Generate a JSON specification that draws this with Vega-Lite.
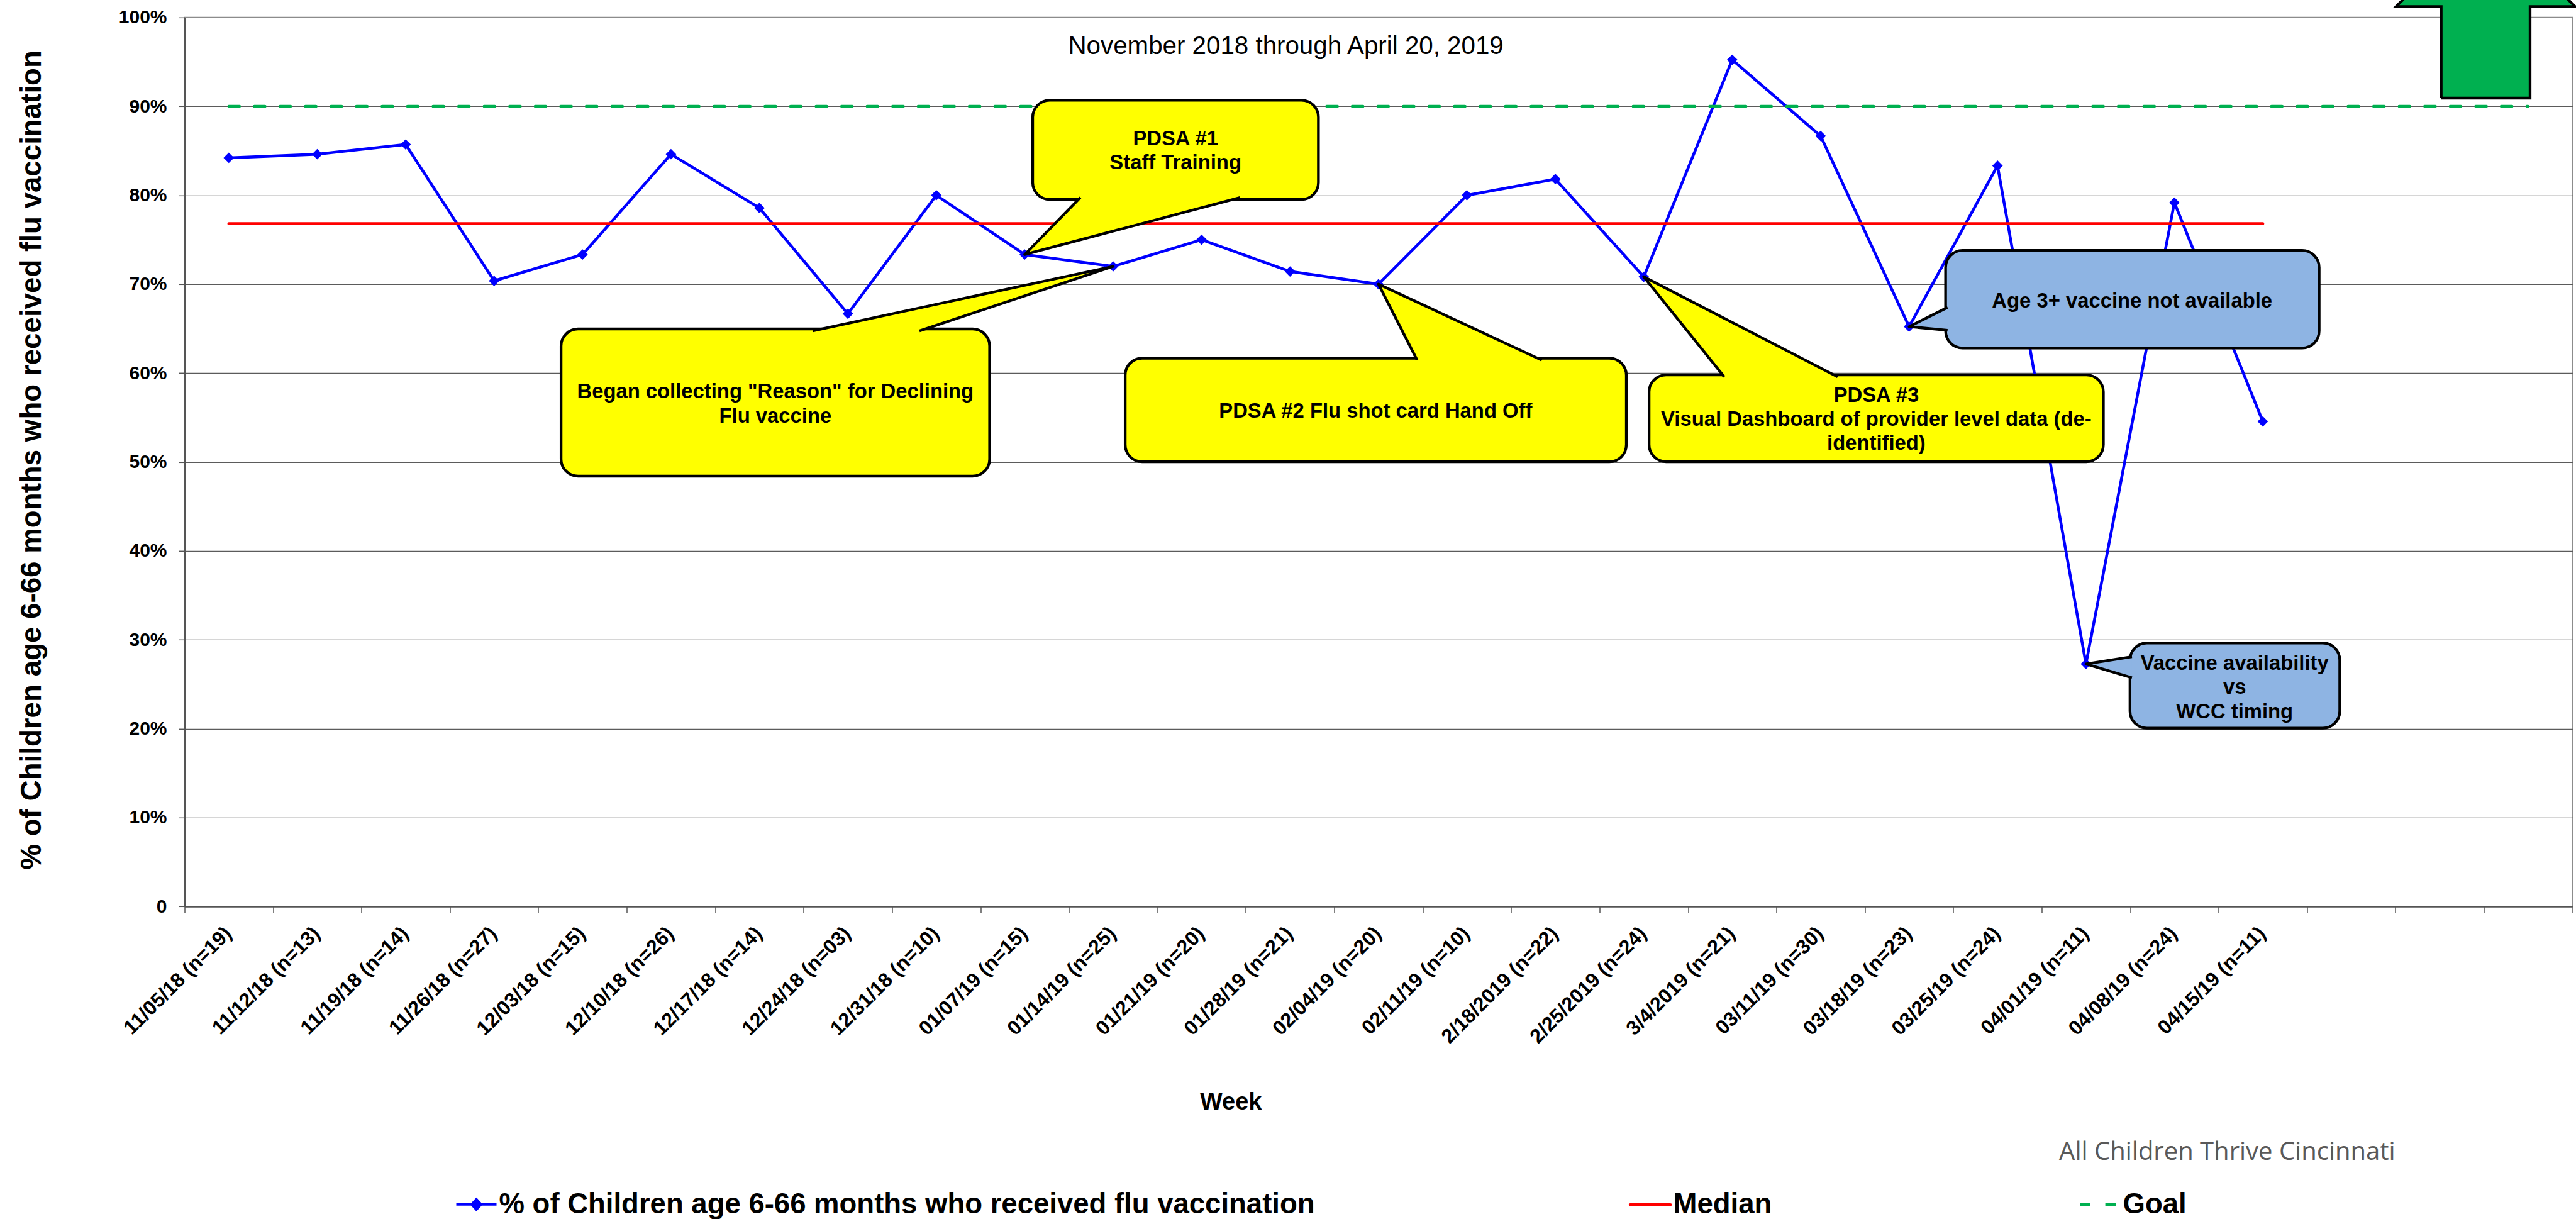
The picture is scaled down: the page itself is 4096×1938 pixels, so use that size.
{
  "$schema": "https://vega.github.io/schema/vega-lite/v6.json",
  "width": 3796.7,
  "height": 1413.2,
  "autosize": {"type": "none"},
  "padding": {"left": 293.5, "top": 27.8, "right": 5.8, "bottom": 497},
  "config": {"font": "Liberation Sans", "view": {"stroke": "#8c8c8c", "strokeWidth": 2}},
  "datasets": {
    "weeks": [
      {"week": "11/05/18 (n=19)", "pct": 0.8421, "median": 0.768, "goal": 0.9},
      {"week": "11/12/18 (n=13)", "pct": 0.8462, "median": 0.768, "goal": 0.9},
      {"week": "11/19/18 (n=14)", "pct": 0.8571, "median": 0.768, "goal": 0.9},
      {"week": "11/26/18 (n=27)", "pct": 0.7037, "median": 0.768, "goal": 0.9},
      {"week": "12/03/18 (n=15)", "pct": 0.7333, "median": 0.768, "goal": 0.9},
      {"week": "12/10/18 (n=26)", "pct": 0.8462, "median": 0.768, "goal": 0.9},
      {"week": "12/17/18 (n=14)", "pct": 0.7857, "median": 0.768, "goal": 0.9},
      {"week": "12/24/18 (n=03)", "pct": 0.6667, "median": 0.768, "goal": 0.9},
      {"week": "12/31/18 (n=10)", "pct": 0.80, "median": 0.768, "goal": 0.9},
      {"week": "01/07/19 (n=15)", "pct": 0.7333, "median": 0.768, "goal": 0.9},
      {"week": "01/14/19 (n=25)", "pct": 0.72, "median": 0.768, "goal": 0.9},
      {"week": "01/21/19 (n=20)", "pct": 0.75, "median": 0.768, "goal": 0.9},
      {"week": "01/28/19 (n=21)", "pct": 0.7143, "median": 0.768, "goal": 0.9},
      {"week": "02/04/19 (n=20)", "pct": 0.70, "median": 0.768, "goal": 0.9},
      {"week": "02/11/19 (n=10)", "pct": 0.80, "median": 0.768, "goal": 0.9},
      {"week": "2/18/2019 (n=22)", "pct": 0.8182, "median": 0.768, "goal": 0.9},
      {"week": "2/25/2019 (n=24)", "pct": 0.7083, "median": 0.768, "goal": 0.9},
      {"week": "3/4/2019 (n=21)", "pct": 0.9524, "median": 0.768, "goal": 0.9},
      {"week": "03/11/19 (n=30)", "pct": 0.8667, "median": 0.768, "goal": 0.9},
      {"week": "03/18/19 (n=23)", "pct": 0.6522, "median": 0.768, "goal": 0.9},
      {"week": "03/25/19 (n=24)", "pct": 0.8333, "median": 0.768, "goal": 0.9},
      {"week": "04/01/19 (n=11)", "pct": 0.2727, "median": 0.768, "goal": 0.9},
      {"week": "04/08/19 (n=24)", "pct": 0.7917, "median": 0.768, "goal": 0.9},
      {"week": "04/15/19 (n=11)", "pct": 0.5455, "median": 0.768, "goal": 0.9},
      {"week": " ", "goal": 0.9},
      {"week": "  ", "goal": 0.9},
      {"week": "   ", "goal": 0.9}
    ],
    "boxes": [
      {"id": "p1", "kind": "PDSA", "x1": 9.590, "x2": 12.821, "y1": 0.9069, "y2": 0.7952},
      {"id": "p0", "kind": "PDSA", "x1": 4.257, "x2": 9.103, "y1": 0.6496, "y2": 0.4840},
      {"id": "p2", "kind": "PDSA", "x1": 10.636, "x2": 16.303, "y1": 0.6167, "y2": 0.5002},
      {"id": "p3", "kind": "PDSA", "x1": 16.560, "x2": 21.697, "y1": 0.5979, "y2": 0.5003},
      {"id": "b1", "kind": "Barrier", "x1": 19.913, "x2": 24.137, "y1": 0.7379, "y2": 0.6281},
      {"id": "b2", "kind": "Barrier", "x1": 21.998, "x2": 24.370, "y1": 0.2963, "y2": 0.2005}
    ],
    "pointers": [
      {"id": "p1", "kind": "PDSA", "o": 1, "x": 10.129, "y": 0.7974},
      {"id": "p1", "kind": "PDSA", "o": 2, "x": 9.5, "y": 0.7333},
      {"id": "p1", "kind": "PDSA", "o": 3, "x": 11.934, "y": 0.7974},
      {"id": "p0", "kind": "PDSA", "o": 1, "x": 7.102, "y": 0.6474},
      {"id": "p0", "kind": "PDSA", "o": 2, "x": 10.5, "y": 0.72},
      {"id": "p0", "kind": "PDSA", "o": 3, "x": 8.309, "y": 0.6474},
      {"id": "p2", "kind": "PDSA", "o": 1, "x": 13.937, "y": 0.6145},
      {"id": "p2", "kind": "PDSA", "o": 2, "x": 13.5, "y": 0.70},
      {"id": "p2", "kind": "PDSA", "o": 3, "x": 15.347, "y": 0.6145},
      {"id": "p3", "kind": "PDSA", "o": 1, "x": 17.410, "y": 0.5957},
      {"id": "p3", "kind": "PDSA", "o": 2, "x": 16.5, "y": 0.7083},
      {"id": "p3", "kind": "PDSA", "o": 3, "x": 18.692, "y": 0.5957},
      {"id": "b1", "kind": "Barrier", "o": 1, "x": 19.935, "y": 0.6738},
      {"id": "b1", "kind": "Barrier", "o": 2, "x": 19.5, "y": 0.6522},
      {"id": "b1", "kind": "Barrier", "o": 3, "x": 19.935, "y": 0.6481},
      {"id": "b2", "kind": "Barrier", "o": 1, "x": 22.020, "y": 0.2809},
      {"id": "b2", "kind": "Barrier", "o": 2, "x": 21.5, "y": 0.2727},
      {"id": "b2", "kind": "Barrier", "o": 3, "x": 22.020, "y": 0.2572}
    ],
    "arrow": [
      {"o": 1, "x": 25.517, "y": 0.9093},
      {"o": 2, "x": 26.522, "y": 0.9093},
      {"o": 3, "x": 26.522, "y": 1.0124},
      {"o": 4, "x": 27.03, "y": 1.0124},
      {"o": 5, "x": 26.019, "y": 1.1131},
      {"o": 6, "x": 25.008, "y": 1.0124},
      {"o": 7, "x": 25.517, "y": 1.0124},
      {"o": 8, "x": 25.517, "y": 0.9093}
    ],
    "notes": [
      {"t": "PDSA #1\nStaff Training", "x": 11.205, "y": 0.8563},
      {"t": "Began collecting \"Reason\" for Declining\nFlu vaccine", "x": 6.680, "y": 0.5714},
      {"t": "PDSA #2 Flu shot card Hand Off", "x": 13.468, "y": 0.5496},
      {"t": "PDSA #3\nVisual Dashboard of provider level data (de-\nidentified)", "x": 19.129, "y": 0.5677},
      {"t": "Age 3+ vaccine not available", "x": 22.022, "y": 0.6738},
      {"t": "Vaccine availability\nvs\nWCC timing", "x": 23.181, "y": 0.2661}
    ],
    "subtitle": [
      {"t": "November 2018 through April 20, 2019", "x": 12.453, "y": 0.9585}
    ],
    "footer": [
      {"t": "All Children Thrive Cincinnati", "x": 23.097, "y": -0.2850}
    ]
  },
  "layer": [
    {
      "data": {"name": "weeks"},
      "encoding": {
        "x": {
          "field": "week", "type": "nominal", "sort": null,
          "scale": {"type": "band", "paddingInner": 0, "paddingOuter": 0,
            "domain": ["11/05/18 (n=19)","11/12/18 (n=13)","11/19/18 (n=14)","11/26/18 (n=27)","12/03/18 (n=15)","12/10/18 (n=26)","12/17/18 (n=14)","12/24/18 (n=03)","12/31/18 (n=10)","01/07/19 (n=15)","01/14/19 (n=25)","01/21/19 (n=20)","01/28/19 (n=21)","02/04/19 (n=20)","02/11/19 (n=10)","2/18/2019 (n=22)","2/25/2019 (n=24)","3/4/2019 (n=21)","03/11/19 (n=30)","03/18/19 (n=23)","03/25/19 (n=24)","04/01/19 (n=11)","04/08/19 (n=24)","04/15/19 (n=11)"," ","  ","   "]},
          "axis": {
            "title": "Week",
            "labelAngle": -45, "labelAlign": "right", "labelBaseline": "top",
            "labelOffset": -12, "labelPadding": 17.5,
            "labelFont": "Liberation Sans", "labelFontSize": 32, "labelFontWeight": "bold", "labelColor": "#000000",
            "labelLimit": 1000, "labelOverlap": false, "labelBound": false,
            "tickBand": "extent", "tickSize": 9.5, "tickColor": "#555555", "tickWidth": 1.5,
            "domainColor": "#555555", "domainWidth": 2.5, "grid": false,
            "titleFont": "Liberation Sans", "titleFontSize": 38, "titleFontWeight": "bold", "titleColor": "#000000",
            "titleX": 1663.2, "titleY": 322.3, "titleAlign": "center", "titleBaseline": "alphabetic"
          }
        },
        "y": {
          "type": "quantitative",
          "title": "% of Children age 6-66 months who received flu vaccination",
          "scale": {"domain": [0, 1], "nice": false},
          "axis": {
            "title": "% of Children age 6-66 months who received flu vaccination",
            "values": [0, 0.1, 0.2, 0.3, 0.4, 0.5, 0.6, 0.7, 0.8, 0.9, 1],
            "labelExpr": "datum.value == 0 ? '0' : format(datum.value, '.0%')",
            "labelFont": "Liberation Sans", "labelFontSize": 30, "labelFontWeight": "bold", "labelColor": "#000000",
            "labelPadding": 19.5, "labelFlush": false, "labelOverlap": false,
            "tickSize": 9, "tickColor": "#555555", "tickWidth": 1.5,
            "domainColor": "#555555", "domainWidth": 2,
            "grid": true,
            "gridColor": {"condition": {"test": "datum.value == 1", "value": "#8c8c8c"}, "value": "#333333"},
            "gridWidth": 1,
            "titleFont": "Liberation Sans", "titleFontSize": 45.7, "titleFontWeight": "bold", "titleColor": "#000000",
            "titleAngle": 270, "titleX": -229.2, "titleY": 703, "titleAlign": "center", "titleBaseline": "alphabetic"
          }
        }
      },
      "layer": [
        {
          "mark": {"type": "line", "strokeWidth": 4.5, "strokeJoin": "round"},
          "encoding": {
            "y": {"field": "pct"},
            "color": {
              "datum": "% of Children age 6-66 months who received flu vaccination",
              "scale": {"range": ["#0000FF"]},
              "legend": {
                "orient": "none", "legendX": 430, "legendY": 1853, "title": null, "padding": 0,
                "symbolType": "M-1,0L1,0M0,-0.256L0.234,0L0,0.256L-0.234,0Z",
                "symbolSize": 4096, "symbolStrokeWidth": 4,
                "labelFont": "Liberation Sans", "labelFontSize": 45.5, "labelFontWeight": "bold", "labelColor": "#000000",
                "labelLimit": 3000, "labelOffset": 2,
                "encode": {"symbols": {"update": {"fill": {"value": "#0000FF"}, "stroke": {"value": "#0000FF"}, "strokeWidth": {"value": 4}, "opacity": {"value": 1}}}}
              }
            }
          }
        },
        {
          "mark": {"type": "point", "shape": "diamond", "filled": true, "size": 280, "color": "#0000FF", "opacity": 1},
          "encoding": {
            "y": {"field": "pct"}
          }
        },
        {
          "mark": {"type": "line", "strokeWidth": 4.6, "strokeCap": "round"},
          "encoding": {
            "y": {"field": "median"},
            "stroke": {
              "datum": "Median",
              "scale": {"range": ["#FF0000"]},
              "legend": {
                "orient": "none", "legendX": 2296, "legendY": 1853, "title": null, "padding": 0,
                "symbolType": "M-1,0L1,0", "symbolSize": 4096, "symbolStrokeWidth": 4.6,
                "labelFont": "Liberation Sans", "labelFontSize": 45.5, "labelFontWeight": "bold", "labelColor": "#000000",
                "labelLimit": 3000, "labelOffset": 2,
                "encode": {"symbols": {"update": {"stroke": {"value": "#FF0000"}, "strokeWidth": {"value": 4.6}, "strokeCap": {"value": "round"}, "opacity": {"value": 1}}}}
              }
            }
          }
        },
        {
          "mark": {"type": "line", "strokeWidth": 4.6, "strokeCap": "round", "color": "#00B050"},
          "encoding": {
            "y": {"field": "goal"},
            "strokeDash": {
              "datum": "Goal",
              "scale": {"range": [[17, 23.6]]},
              "legend": {
                "orient": "none", "legendX": 3011, "legendY": 1853, "title": null, "padding": 0,
                "symbolType": "M-1,0L1,0", "symbolSize": 4096, "symbolStrokeWidth": 4.6,
                "labelFont": "Liberation Sans", "labelFontSize": 45.5, "labelFontWeight": "bold", "labelColor": "#000000",
                "labelLimit": 3000, "labelOffset": 2,
                "encode": {"symbols": {"update": {"stroke": {"value": "#00B050"}, "strokeWidth": {"value": 4.6}, "strokeCap": {"value": "round"}, "strokeDash": {"value": [15, 25]}, "opacity": {"value": 1}}}}
              }
            }
          }
        }
      ]
    },
    {
      "encoding": {
        "y": {"type": "quantitative", "title": "% of Children age 6-66 months who received flu vaccination", "scale": {"domain": [0, 1], "nice": false}}
      },
      "layer": [
        {
          "data": {"name": "boxes"},
          "transform": [{"filter": "datum.kind == 'PDSA'"}],
          "mark": {"type": "rect", "fill": "#FFFF00", "stroke": "#000000", "strokeWidth": 4.3, "cornerRadius": 27},
          "encoding": {
            "x": {"field": "x1", "type": "quantitative", "scale": {"domain": [0, 27], "nice": false, "zero": false}, "axis": null},
            "x2": {"field": "x2"},
            "y": {"field": "y1"},
            "y2": {"field": "y2"}
          }
        },
        {
          "data": {"name": "boxes"},
          "transform": [{"filter": "datum.kind == 'Barrier'"}],
          "mark": {"type": "rect", "fill": "#8EB4E3", "stroke": "#000000", "strokeWidth": 4.3, "cornerRadius": 27},
          "encoding": {
            "x": {"field": "x1", "type": "quantitative", "scale": {"domain": [0, 27], "nice": false, "zero": false}, "axis": null},
            "x2": {"field": "x2"},
            "y": {"field": "y1"},
            "y2": {"field": "y2"}
          }
        },
        {
          "data": {"name": "pointers"},
          "transform": [{"filter": "datum.kind == 'PDSA'"}],
          "mark": {"type": "line", "fill": "#FFFF00", "stroke": "#000000", "strokeWidth": 4.3, "strokeJoin": "round"},
          "encoding": {
            "x": {"field": "x", "type": "quantitative", "scale": {"domain": [0, 27], "nice": false, "zero": false}, "axis": null},
            "y": {"field": "y"},
            "detail": {"field": "id"},
            "order": {"field": "o"}
          }
        },
        {
          "data": {"name": "pointers"},
          "transform": [{"filter": "datum.kind == 'Barrier'"}],
          "mark": {"type": "line", "fill": "#8EB4E3", "stroke": "#000000", "strokeWidth": 4.3, "strokeJoin": "round"},
          "encoding": {
            "x": {"field": "x", "type": "quantitative", "scale": {"domain": [0, 27], "nice": false, "zero": false}, "axis": null},
            "y": {"field": "y"},
            "detail": {"field": "id"},
            "order": {"field": "o"}
          }
        },
        {
          "data": {"name": "arrow"},
          "mark": {"type": "line", "fill": "#00B050", "stroke": "#000000", "strokeWidth": 4.3, "strokeJoin": "miter", "clip": false},
          "encoding": {
            "x": {"field": "x", "type": "quantitative", "scale": {"domain": [0, 27], "nice": false, "zero": false}, "axis": null},
            "y": {"field": "y"},
            "order": {"field": "o"}
          }
        },
        {
          "data": {"name": "notes"},
          "mark": {"type": "text", "font": "Liberation Sans", "fontSize": 32.8, "fontWeight": "bold", "color": "#000000", "align": "center", "baseline": "alphabetic", "lineBreak": "\n", "lineHeight": 38.3},
          "encoding": {
            "x": {"field": "x", "type": "quantitative", "scale": {"domain": [0, 27], "nice": false, "zero": false}, "axis": null},
            "y": {"field": "y"},
            "text": {"field": "t"}
          }
        },
        {
          "data": {"name": "subtitle"},
          "mark": {"type": "text", "font": "Liberation Sans", "fontSize": 40.3, "fontWeight": "normal", "color": "#000000", "align": "center", "baseline": "alphabetic"},
          "encoding": {
            "x": {"field": "x", "type": "quantitative", "scale": {"domain": [0, 27], "nice": false, "zero": false}, "axis": null},
            "y": {"field": "y"},
            "text": {"field": "t"}
          }
        },
        {
          "data": {"name": "footer"},
          "mark": {"type": "text", "font": "Open Sans", "fontSize": 40, "fontWeight": "normal", "color": "#595959", "align": "center", "baseline": "alphabetic", "clip": false},
          "encoding": {
            "x": {"field": "x", "type": "quantitative", "scale": {"domain": [0, 27], "nice": false, "zero": false}, "axis": null},
            "y": {"field": "y"},
            "text": {"field": "t"}
          }
        }
      ]
    }
  ],
  "resolve": {"scale": {"x": "independent"}}
}
